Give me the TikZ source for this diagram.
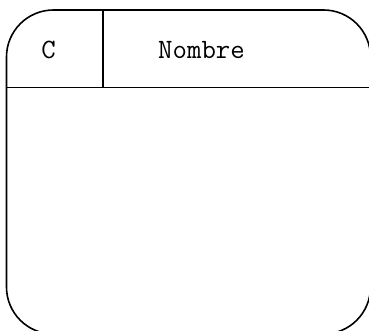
\documentclass[tikz,border=0pt]{standalone}
\begin{document}
\begin{tikzpicture}[x=1pt,y=-1pt,line width=1.6pt,
  celltext/.style={font=\ttfamily\fontsize{28}{32}\selectfont,inner sep=0pt}]
\useasboundingbox (0,0) rectangle (369,331);
\clip (0,0) rectangle (369,331);
% entity box with its header row
\draw[rounded corners=47pt] (6.5,10) rectangle (370.5,334);
\draw (6.5,87.5) -- (370.5,87.5);
\draw (102.7,10) -- (102.7,87.5);
\node[celltext] (c) at (48.5,50) {C};
\node[celltext] (nombre) at (201.5,50) {Nombre};
\end{tikzpicture}
\end{document}
